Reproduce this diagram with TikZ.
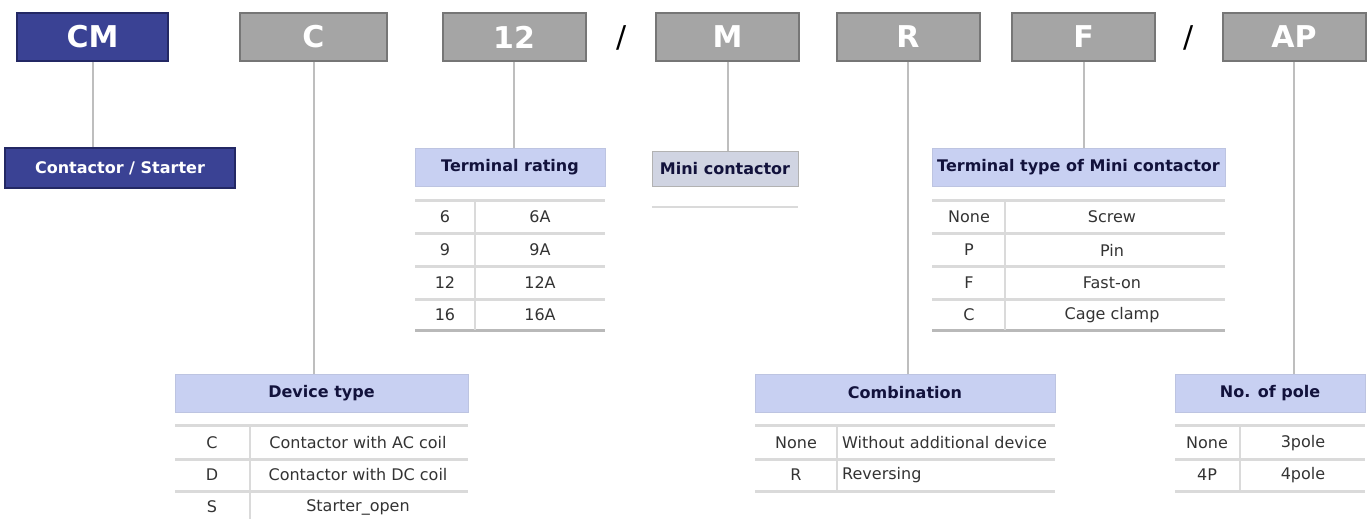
\documentclass[tikz,border=0pt]{standalone}
\usepackage{fontspec}
\setmainfont{DejaVu Sans}
\usetikzlibrary{positioning}

\definecolor{codegray}{RGB}{165,165,165}
\definecolor{codeedge}{RGB}{118,118,118}
\definecolor{navy}{RGB}{58,66,148}
\definecolor{navyedge}{RGB}{35,40,100}
\definecolor{hdblue}{RGB}{200,208,242}
\definecolor{hdtext}{RGB}{18,18,60}
\definecolor{minigray}{RGB}{208,212,226}
\definecolor{linkgray}{RGB}{190,190,190}
\definecolor{rulegray}{RGB}{218,218,218}

\begin{document}
\begin{tikzpicture}[x=1pt, y=-1pt,
    codebox/.style={draw=codeedge, line width=2pt, fill=codegray, text=white,
        minimum width=143pt, minimum height=48pt, font=\fontsize{30}{34}\selectfont\bfseries},
    navybox/.style={codebox, draw=navyedge, fill=navy},
    slashmark/.style={text=black, font=\fontsize{30}{34}\selectfont},
    hd/.style={fill=hdblue, draw=hdblue!85!gray, minimum height=38pt, inner sep=0pt,
        text=hdtext, font=\fontsize{16}{19}\selectfont\bfseries},
    cell/.style={text=black!80, inner sep=1pt, font=\fontsize{16}{19}\selectfont},
    link/.style={draw=linkgray, line width=2pt},
    rowline/.style={draw=rulegray, line width=3pt},
    colline/.style={draw=rulegray, line width=2pt}]
    \useasboundingbox (0,0) rectangle (1369,519);

    % code boxes
    \node[navybox, minimum width=151pt] (cm) at (92.5,37) {CM};
    \node[codebox, minimum width=147pt] (c) at (313.5,37) {C};
    \node[codebox] (rt) at (514,37) {12};
    \node[slashmark] (s1) at (622,38) {/};
    \node[codebox] (m) at (727.5,37) {M};
    \node[codebox] (r) at (908,37) {R};
    \node[codebox] (f) at (1083.5,37) {F};
    \node[slashmark] (s2) at (1189,38) {/};
    \node[codebox] (ap) at (1294,37) {AP};

    % headers
    \node[navybox, minimum width=230pt, minimum height=40pt, text=white,
        font=\fontsize{16}{19}\selectfont\bfseries] (cs) at (120,168) {Contactor / Starter};
    \node[hd, minimum width=190pt] (trhd) at (510,167) {Terminal rating};
    \node[hd, fill=minigray, draw=gray!60, minimum width=146pt, minimum height=35pt] (mini) at (725,169) {Mini contactor};
    \node[hd, minimum width=293pt] (tthd) at (1078.5,167) {Terminal type of Mini contactor};
    \node[hd, minimum width=293pt] (dthd) at (321.5,393) {Device type};
    \node[hd, minimum width=300pt] (cbhd) at (905,393) {Combination};
    \node[hd, minimum width=190pt] (nphd) at (1270,393) {No. of pole};

    % links
    \draw[link] (cm.south) -- (cm.south |- cs.north);
    \draw[link] (c.south) -- (c.south |- dthd.north);
    \draw[link] (rt.south) -- (rt.south |- trhd.north);
    \draw[link] (m.south) -- (m.south |- mini.north);
    \draw[link] (r.south) -- (r.south |- cbhd.north);
    \draw[link] (f.south) -- (f.south |- tthd.north);
    \draw[link] (ap.south) -- (ap.south |- nphd.north);

    % terminal rating
    \foreach \y in {200,233,266,299} \draw[rowline] (415,\y) -- (605,\y);
    \draw[rowline, draw=gray!55] (415,330) -- (605,330);
    \draw[colline] (475,200) -- (475,330);
    \foreach \y/\k/\v [count=\i] in {217/6/6A, 250/9/9A, 283/12/12A, 315/16/16A} {
        \node[cell] (trk\i) at (445,\y) {\k};
        \node[cell] (trv\i) at (540,\y) {\v};
    }

    % mini contactor
    \draw[rowline, line width=2pt] (mini.west |- 0,207) -- (mini.east |- 0,207);

    % terminal type
    \foreach \y in {200,233,266,299} \draw[rowline] (932,\y) -- (1225,\y);
    \draw[rowline, draw=gray!55] (932,330) -- (1225,330);
    \draw[colline] (1005,200) -- (1005,330);
    \foreach \y/\k/\v [count=\i] in {217/None/Screw, 250/P/Pin, 283/F/Fast-on, 315/C/Cage clamp} {
        \node[cell] (ttk\i) at (969,\y) {\k};
        \node[cell] (ttv\i) at (1112,\y) {\v};
    }

    % device type
    \foreach \y in {425,459,491} \draw[rowline] (175,\y) -- (468,\y);
    \draw[colline] (250,425) -- (250,519);
    \foreach \y/\k/\v [count=\i] in {443/C/Contactor with AC coil, 475/D/Contactor with DC coil, 507/S/Starter\_open} {
        \node[cell] (dtk\i) at (212,\y) {\k};
        \node[cell] (dtv\i) at (358,\y) {\v};
    }

    % combination
    \foreach \y in {425,459,491} \draw[rowline] (755,\y) -- (1055,\y);
    \draw[colline] (837,425) -- (837,491);
    \foreach \y/\k/\v [count=\i] in {443/None/Without additional device, 475/R/Reversing} {
        \node[cell] (cbk\i) at (796,\y) {\k};
        \node[cell, anchor=west] (cbv\i) at (841,\y) {\v};
    }

    % no. of pole
    \foreach \y in {425,459,491} \draw[rowline] (1175,\y) -- (1365,\y);
    \draw[colline] (1240,425) -- (1240,491);
    \foreach \y/\k/\v [count=\i] in {443/None/3pole, 475/4P/4pole} {
        \node[cell] (npk\i) at (1207,\y) {\k};
        \node[cell] (npv\i) at (1303,\y) {\v};
    }
\end{tikzpicture}
\end{document}
